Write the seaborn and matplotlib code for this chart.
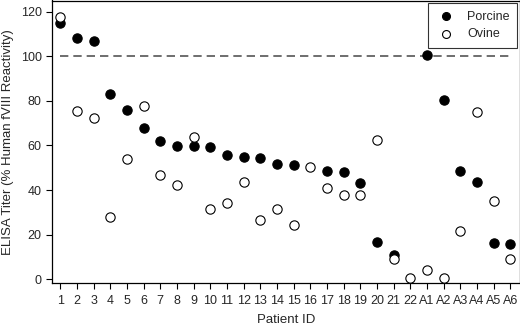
import numpy as np
import pandas as pd
import matplotlib
matplotlib.use("Agg")
import matplotlib.pyplot as plt
import seaborn as sns

# patient IDs and ELISA titers (% human fVIII reactivity)
patients = [str(i) for i in range(1, 23)] + ["A1", "A2", "A3", "A4", "A5", "A6"]
porcine = [115.1, 108.0, 107.0, 83.0, 76.0, 67.8, 62.0, 59.8, 59.6, 59.3,
           55.7, 54.8, 54.2, 51.5, 51.3, np.nan, 48.6, 47.9, 43.0, 16.6,
           11.0, np.nan, 100.6, 80.4, 48.6, 43.6, 16.4, 15.8]
ovine = [117.6, 75.5, 72.5, 27.8, 53.9, 77.6, 46.9, 42.2, 63.6, 31.3,
         34.2, 43.4, 26.6, 31.5, 24.3, 50.3, 41.0, 37.9, 37.6, 62.4,
         9.0, 0.4, 4.3, 0.4, 21.5, 75.2, 35.0, 9.2]

sns.set_style("ticks")
plt.rcParams["font.family"] = ["Liberation Sans", "DejaVu Sans"]

df = pd.DataFrame({"patient": patients, "Porcine": porcine, "Ovine": ovine})

fig = plt.figure(figsize=(5.2, 3.28), dpi=100)
ax = fig.add_axes([52 / 520, 45 / 328, 467.5 / 520, 282.5 / 328])

ax.axhline(100, xmin=0.017, xmax=0.983, color="#555555", lw=1.2,
           ls=(0, (5, 3)), zorder=1)

sns.scatterplot(data=df, x="patient", y="Porcine", ax=ax, color="black",
                edgecolor="black", s=45, linewidth=0.8, label="Porcine", zorder=3)
sns.scatterplot(data=df, x="patient", y="Ovine", ax=ax, color="white",
                edgecolor="black", s=45, linewidth=0.8, label="Ovine", zorder=4)

ax.set_xlim(-0.5, 27.55)
ax.set_ylim(-1.7, 125)
ax.set_yticks([0, 20, 40, 60, 80, 100, 120])
ax.tick_params(labelsize=9, length=4, width=0.8, color="black")
ax.tick_params(axis="x", pad=5)
ax.set_xlabel("Patient ID", fontsize=9.5, labelpad=5)
ax.set_ylabel("ELISA Titer (% Human fVIII Reactivity)", fontsize=9.5, labelpad=5)

for sp in ax.spines.values():
    sp.set_visible(True)
    sp.set_color("black")
    sp.set_linewidth(0.9)

leg = ax.legend(loc="upper right", fontsize=9, frameon=True, fancybox=False,
                edgecolor="black", borderpad=0.6, handletextpad=0.9,
                labelspacing=0.45, borderaxespad=0.2, markerscale=0.85,
                handlelength=1.6)
leg.get_frame().set_linewidth(0.8)

fig.savefig("out.png", dpi=100)
